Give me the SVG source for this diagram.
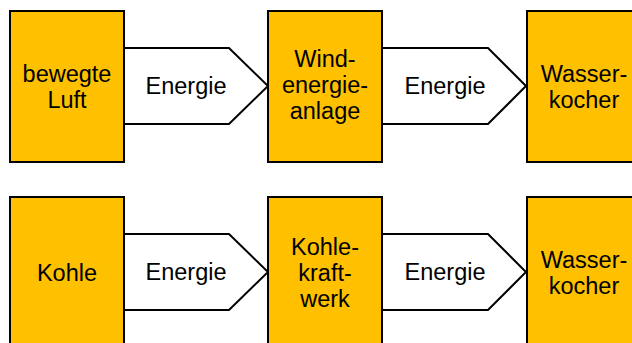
<svg xmlns="http://www.w3.org/2000/svg" width="632" height="343" viewBox="0 0 632 343">
<style>
.box{fill:#FFC000;stroke:#000;stroke-width:2}
.arr{fill:#fff;stroke:#000;stroke-width:2;stroke-linejoin:miter}
text{font-family:"Liberation Sans",Arial,sans-serif;font-size:23.5px;fill:#000;text-anchor:middle}
</style>
<rect width="632" height="343" fill="#fff"/>
<g id="connectors">
<g id="arrow1"><path class="arr" d="M124,48 H229 L268,86 L229,124 H124 Z"/><text x="186" y="94">Energie</text></g>
<g id="arrow2"><path class="arr" d="M382,48 H488 L526,86 L488,124 H382 Z"/><text x="445" y="94">Energie</text></g>
<g id="arrow3"><path class="arr" d="M124,234 H229 L268,272 L229,310 H124 Z"/><text x="186" y="280">Energie</text></g>
<g id="arrow4"><path class="arr" d="M382,234 H488 L526,272 L488,310 H382 Z"/><text x="445" y="280">Energie</text></g>
</g>
<g id="luft"><rect class="box" x="10" y="11" width="114" height="151"/><text x="67" y="82">bewegte</text><text x="67" y="108">Luft</text></g>
<g id="wea"><rect class="box" x="268" y="11" width="114" height="151"/><text x="325" y="67">Wind-</text><text x="325" y="93">energie-</text><text x="325" y="119">anlage</text></g>
<g id="wasserkocher1"><rect class="box" x="527" y="11" width="114" height="151"/><text x="584" y="82">Wasser-</text><text x="584" y="108">kocher</text></g>
<g id="kohle"><rect class="box" x="10" y="197" width="114" height="151"/><text x="67" y="281">Kohle</text></g>
<g id="kkw"><rect class="box" x="268" y="197" width="114" height="151"/><text x="325" y="255">Kohle-</text><text x="325" y="281">kraft-</text><text x="325" y="307">werk</text></g>
<g id="wasserkocher2"><rect class="box" x="527" y="197" width="114" height="151"/><text x="584" y="268">Wasser-</text><text x="584" y="294">kocher</text></g>
</svg>
